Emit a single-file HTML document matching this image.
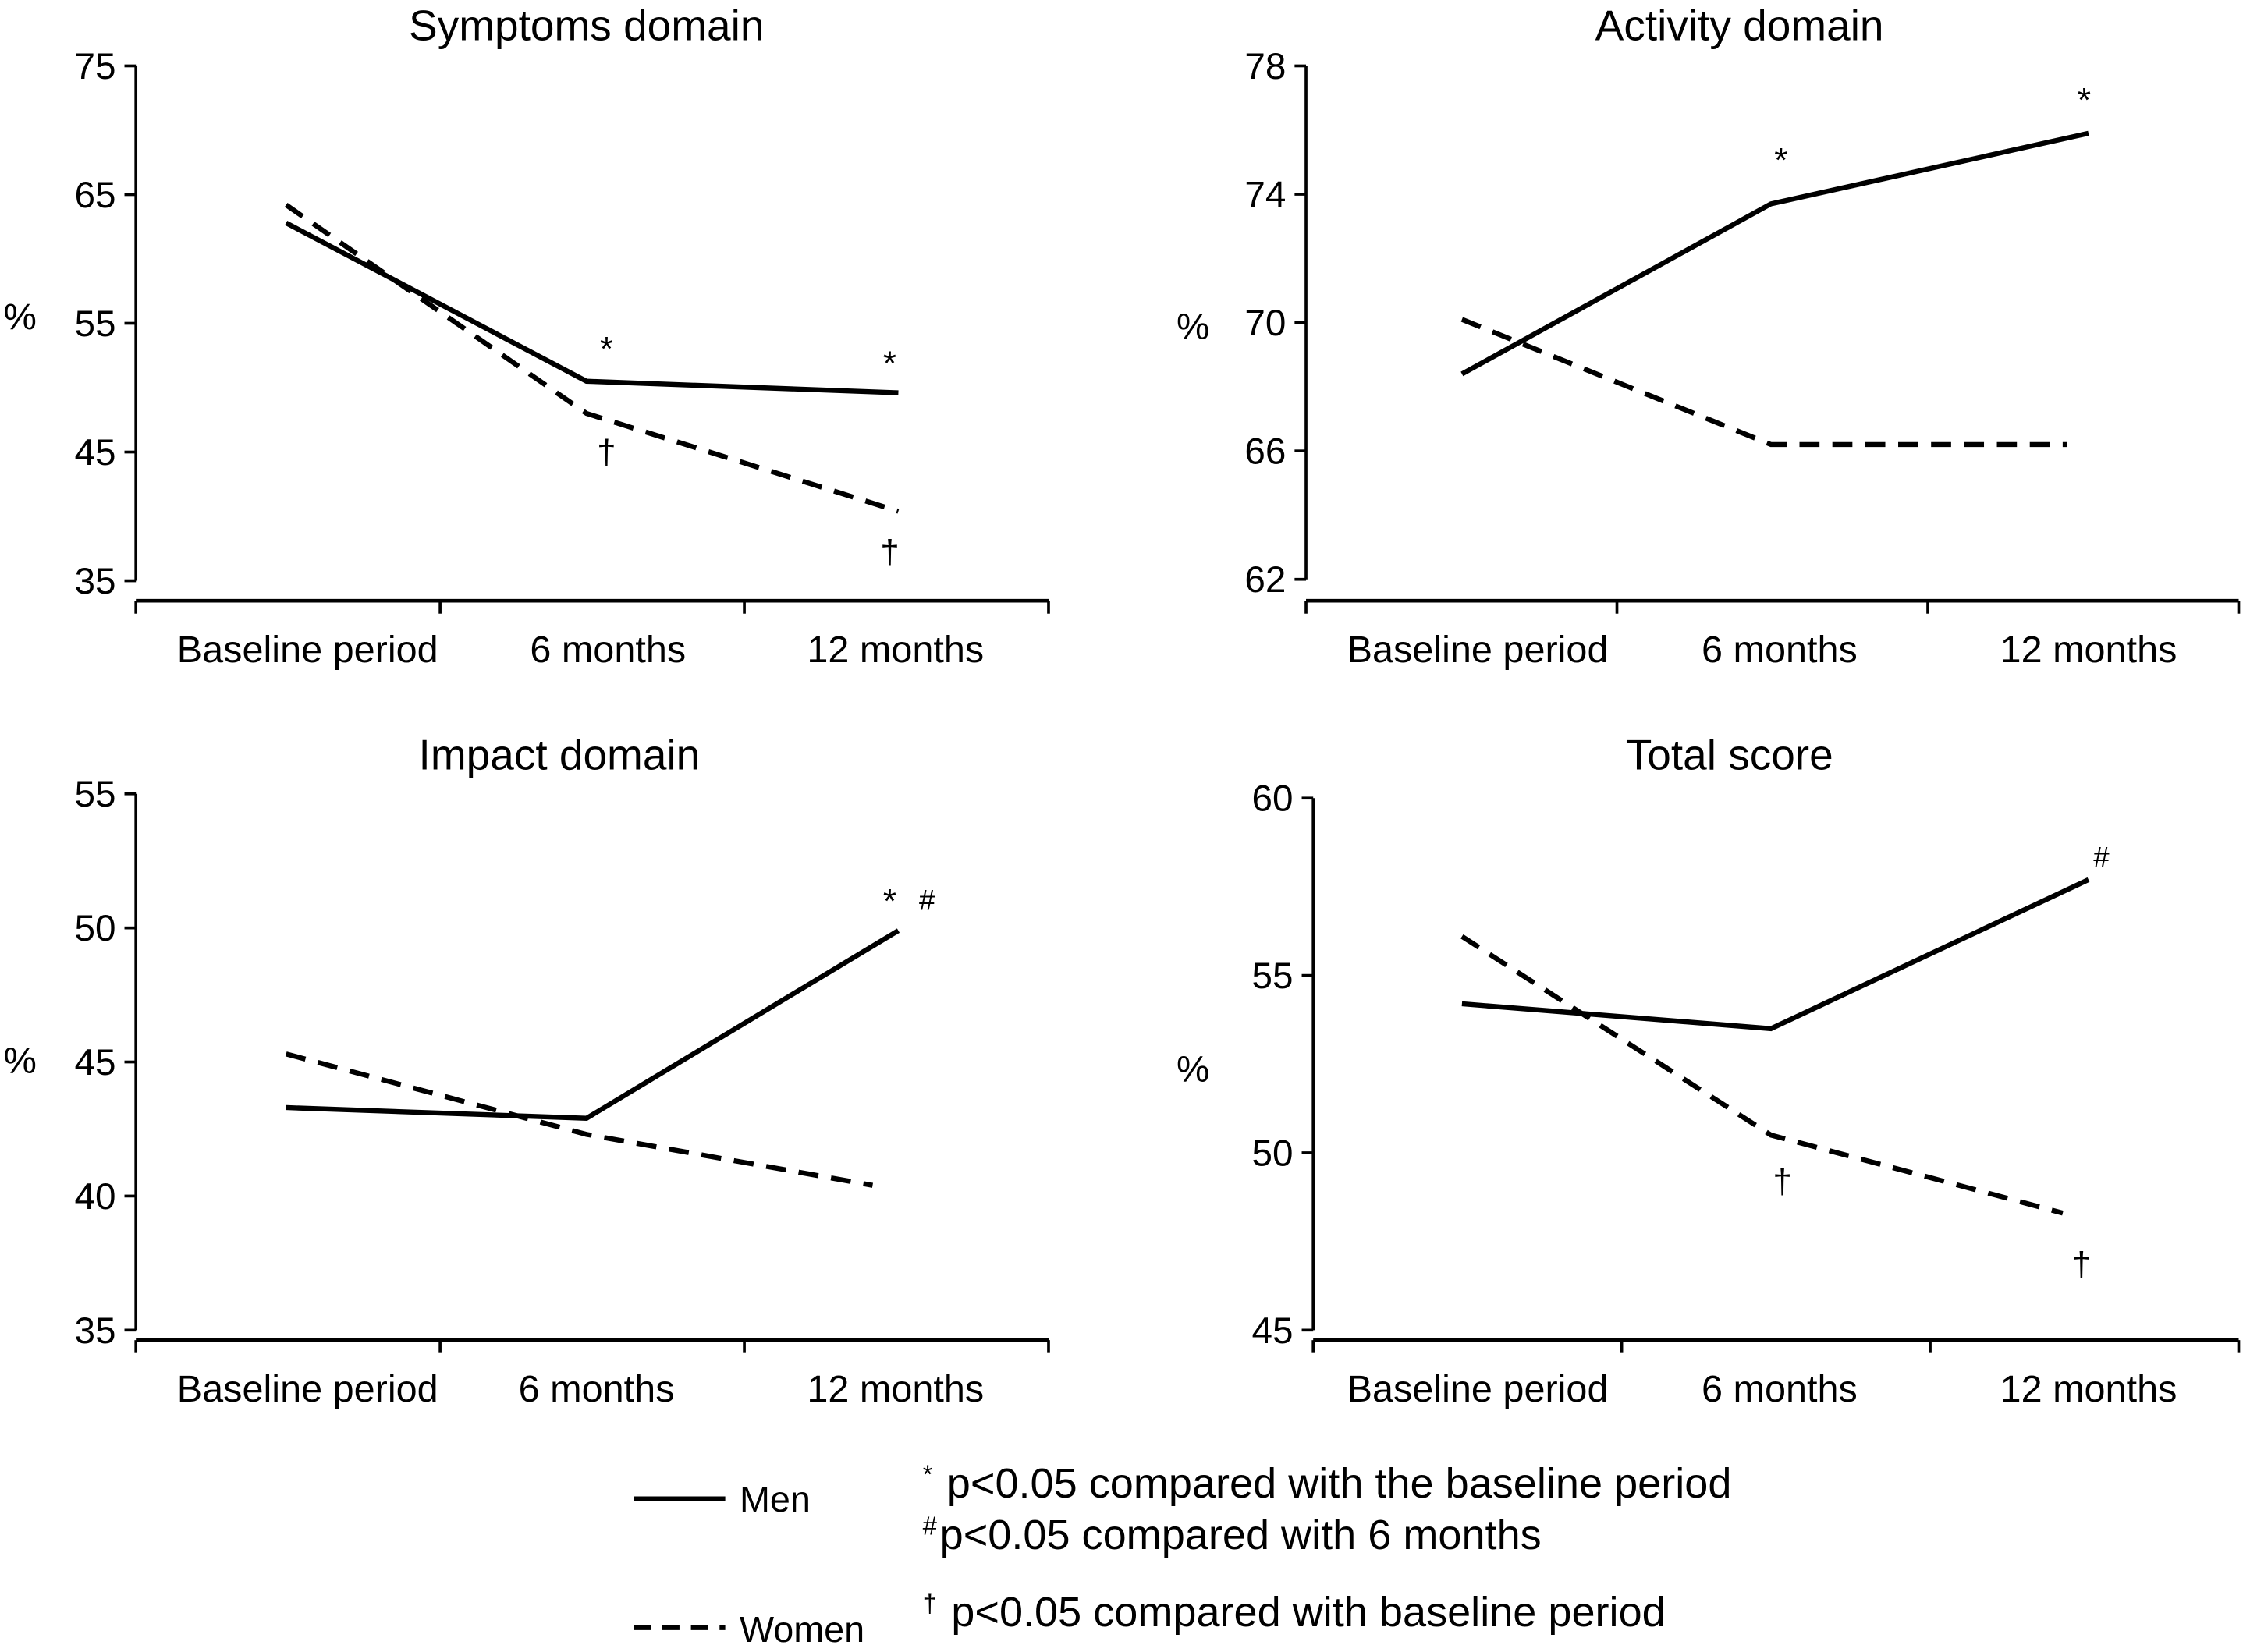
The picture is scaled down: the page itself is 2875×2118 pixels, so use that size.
<!DOCTYPE html>
<html><head><meta charset="utf-8"><style>
html,body{margin:0;padding:0;background:#fff;}
svg{display:block;}
text{font-family:"Liberation Sans Narrow","Liberation Sans",sans-serif;fill:#000;}
</style></head><body>
<svg id="chart" width="2875" height="2118" viewBox="0 0 1568 1155" xmlns="http://www.w3.org/2000/svg"></svg>
<script>
const categories = ["Baseline period", "6 months", "12 months"];
const symptomsMen = [62.8, 50.5, 49.6];
const symptomsWomen = [64.2, 48.0, 40.4];
const symptomsTicks = [35, 45, 55, 65, 75];
const activityMen = [68.4, 73.7, 75.9];
const activityWomen = [70.1, 66.2, 66.2];
const activityTicks = [62, 66, 70, 74, 78];
const impactMen = [43.3, 42.9, 49.9];
const impactWomen = [45.3, 42.3, 40.4];
const impactTicks = [35, 40, 45, 50, 55];
const totalMen = [54.2, 53.5, 57.7];
const totalWomen = [56.1, 50.5, 48.3];
const totalTicks = [45, 50, 55, 60];

const NS = "http://www.w3.org/2000/svg";
const svg = document.getElementById("chart");
function el(tag, attrs, parent, txt){
  const e = document.createElementNS(NS, tag);
  for (const k in attrs) e.setAttribute(k, attrs[k]);
  if (txt !== undefined) e.textContent = txt;
  (parent || svg).appendChild(e);
  return e;
}

const panels = [
  {key:"symptoms", title:"Symptoms domain", titleX:410, titleY:28, ax:95, xEnd:733, yTop:46, yBot:406, xAxisY:420,
   ticks:symptomsTicks, men:symptomsMen, women:symptomsWomen, px:[200,410,628], wx:[200,410,628], lx:[215,425,626], pctX:14, pctY:230,
   notes:[{t:"*",x:424,y:252,s:24},{t:"*",x:622,y:262,s:24},{t:"†",x:424,y:324,s:24},{t:"†",x:622,y:394,s:24}]},
  {key:"activity", title:"Activity domain", titleX:1216, titleY:28, ax:913, xEnd:1565, yTop:46, yBot:405, xAxisY:420,
   ticks:activityTicks, men:activityMen, women:activityWomen, px:[1022,1238,1460], wx:[1022,1238,1445], lx:[1033,1244,1460], pctX:834, pctY:237,
   notes:[{t:"*",x:1245,y:120,s:24},{t:"*",x:1457,y:78,s:24}]},
  {key:"impact", title:"Impact domain", titleX:391, titleY:538, ax:95, xEnd:733, yTop:555, yBot:930, xAxisY:937,
   ticks:impactTicks, men:impactMen, women:impactWomen, px:[200,410,628], wx:[200,410,610], lx:[215,417,626], pctX:14, pctY:750,
   notes:[{t:"*",x:622,y:638,s:24},{t:"#",x:648,y:636,s:20}]},
  {key:"total", title:"Total score", titleX:1209, titleY:538, ax:918, xEnd:1565, yTop:558, yBot:930, xAxisY:937,
   ticks:totalTicks, men:totalMen, women:totalWomen, px:[1022,1238,1460], wx:[1022,1238,1442], lx:[1033,1244,1460], pctX:834, pctY:756,
   notes:[{t:"#",x:1469,y:606,s:20},{t:"†",x:1246,y:834,s:24},{t:"†",x:1455,y:892,s:24}]}
];

panels.forEach(p => {
  const g = el("g", {});
  
  
  const lo = p.ticks[0], hi = p.ticks[p.ticks.length-1];
  const y = v => p.yBot - (v - lo) / (hi - lo) * (p.yBot - p.yTop);
  const t = el("text", {x:p.titleX, y:p.titleY, "font-size":30, "text-anchor":"middle"}, g, p.title);
  
  
  const pc = el("text", {x:p.pctX, y:p.pctY, "font-size":26, "text-anchor":"middle"}, g, "%");
  
  
  const ya = el("line", {x1:p.ax, y1:p.yTop, x2:p.ax, y2:p.yBot, stroke:"#000", "stroke-width":2}, g);
  
  
  p.ticks.forEach(v => {
    el("line", {x1:p.ax-8, y1:y(v), x2:p.ax, y2:y(v), stroke:"#000", "stroke-width":2}, g);
    const tl = el("text", {x:p.ax-14, y:y(v)+9, "font-size":26, "text-anchor":"end"}, g, String(v));
    
    
  });
  const xa = el("line", {x1:p.ax, y1:p.xAxisY, x2:p.xEnd, y2:p.xAxisY, stroke:"#000", "stroke-width":2.5}, g);
  
  
  const w = (p.xEnd - p.ax) / categories.length;
  for (let i = 0; i <= categories.length; i++) {
    el("line", {x1:p.ax + i*w, y1:p.xAxisY, x2:p.ax + i*w, y2:p.xAxisY+9, stroke:"#000", "stroke-width":2}, g);
  }
  categories.forEach((c, i) => {
    const cl = el("text", {x:p.lx[i], y:p.xAxisY+43, "font-size":26.5, "text-anchor":"middle"}, g, c);
    
    
  });
  const mp = el("polyline", {points:p.men.map((v,i)=>p.px[i]+","+y(v)).join(" "), fill:"none", stroke:"#000", "stroke-width":3.5}, g);
  
  
  const wp = el("polyline", {points:p.women.map((v,i)=>p.wx[i]+","+y(v)).join(" "), fill:"none", stroke:"#000", "stroke-width":3.5, "stroke-dasharray":"14 9"}, g);
  
  
  p.notes.forEach(n => {
    const nt = el("text", {x:n.x, y:n.y, "font-size":n.s, "text-anchor":"middle"}, g, n.t);
    
    
  });
});

const lg = el("g", {});


const l1 = el("line", {x1:443, y1:1048, x2:507, y2:1048, stroke:"#000", "stroke-width":3.5}, lg);


const t1 = el("text", {x:517, y:1057, "font-size":25.5}, lg, "Men");


const l2 = el("line", {x1:443, y1:1138, x2:507, y2:1138, stroke:"#000", "stroke-width":3.5, "stroke-dasharray":"12 8"}, lg);


const t2 = el("text", {x:517, y:1148, "font-size":25.5}, lg, "Women");


const notesTxt = [
  {sup:"*", txt:"p<0.05 compared with the baseline period", y:1047, x:645, tx:662},
  {sup:"#", txt:"p<0.05 compared with 6 months", y:1083, x:645, tx:657},
  {sup:"†", txt:"p<0.05 compared with baseline period", y:1137, x:645, tx:665}
];
notesTxt.forEach(n => {
  const s = el("text", {x:n.x, y:n.y-10, "font-size":18}, lg, n.sup);
  
  
  const tt = el("text", {x:n.tx, y:n.y, "font-size":29.5}, lg, n.txt);
  
  
});
</script>
</body></html>
